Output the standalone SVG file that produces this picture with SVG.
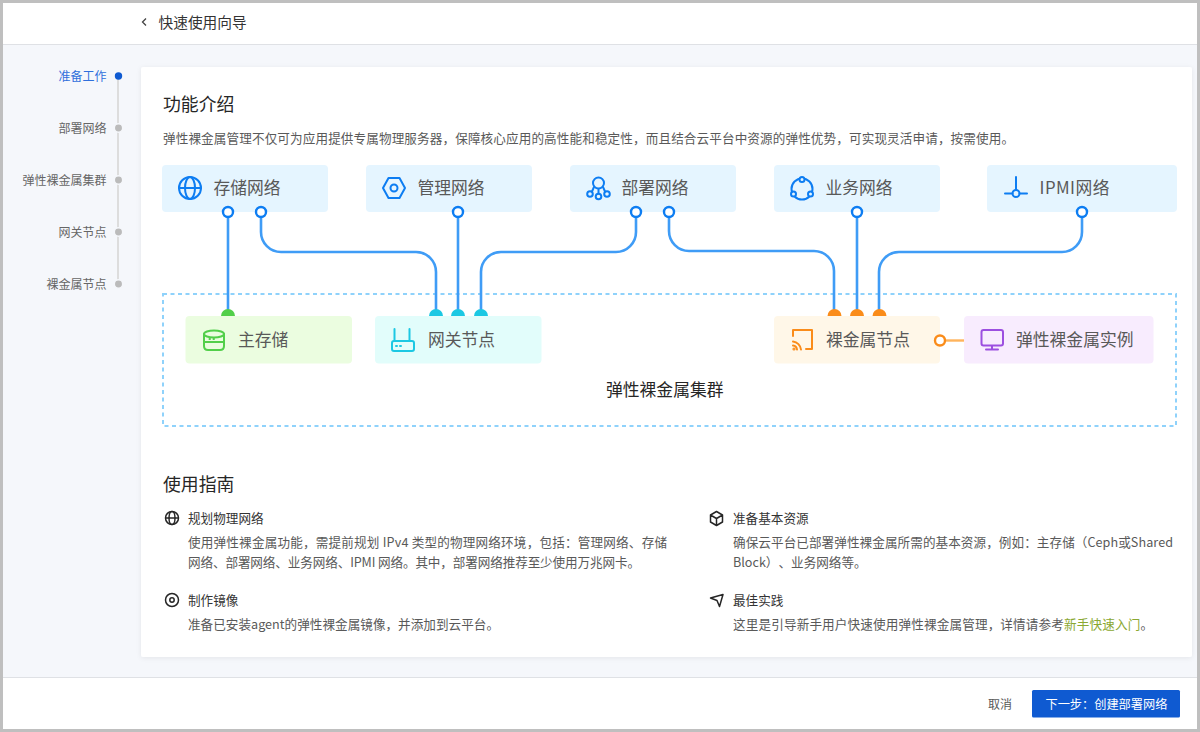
<svg xmlns="http://www.w3.org/2000/svg" width="1200" height="732" viewBox="0 0 1200 732">
<defs>
<filter id="sh" x="-2%" y="-2%" width="104%" height="104%"><feDropShadow dx="0" dy="1" stdDeviation="2.5" flood-color="#000" flood-opacity="0.07"/></filter>
</defs>
<style>
text{font-family:"Noto Sans CJK SC","Liberation Sans",sans-serif;text-spacing-trim:space-all}
.lb{font-size:16.8px;fill:#595959}
.h{font-size:17.85px;fill:#262626}
.b{font-size:12.6px;fill:#595959}
.t{font-size:12.6px;fill:#333}
.s{font-size:12px;fill:#666;text-anchor:end}
.i{fill:none;stroke-width:2;stroke-linecap:round;stroke-linejoin:round}
.bl{stroke:#0d7df2}
.k{fill:none;stroke:#262626;stroke-width:1.5;stroke-linejoin:round}
.c{fill:none;stroke:#3f9cf6;stroke-width:2.6}
.p{fill:#fff;stroke:#0d7df2;stroke-width:2.4}
</style>
<rect width="1200" height="732" fill="#bfbfbf"/>
<rect x="3" y="3" width="1194" height="726" fill="#f5f7fb"/>
<rect x="3" y="3" width="1194" height="41" fill="#fff"/>
<rect x="3" y="44" width="1194" height="1" fill="#dfe1e5"/>
<rect x="3" y="677" width="1194" height="52" fill="#fff"/>
<rect x="3" y="677" width="1194" height="1" fill="#dfe1e5"/>
<path d="M146 18.5l-3.500 3.500 3.500 3.500" fill="none" stroke="#444" stroke-width="1.300"/>
<text x="158.500" y="28" font-size="14.700" fill="#333">快速使用向导</text>

<g id="sidebar">
<rect x="117" y="76" width="2" height="208" fill="#ddd"/>
<circle cx="118.500" cy="76" r="3.700" fill="#0f5ad1"/>
<g fill="#bbb" stroke="#f5f7fb" stroke-width="1.500">
<circle cx="118.500" cy="128" r="4.200"/><circle cx="118.500" cy="180" r="4.200"/><circle cx="118.500" cy="232" r="4.200"/><circle cx="118.500" cy="284" r="4.200"/>
</g>
<text class="s" x="106.500" y="80.500" style="fill:#2f6fdc">准备工作</text>
<text class="s" x="106.500" y="132.500">部署网络</text>
<text class="s" x="106.500" y="184.500">弹性裸金属集群</text>
<text class="s" x="106.500" y="236.500">网关节点</text>
<text class="s" x="106.500" y="288.500">裸金属节点</text>
</g>

<rect x="141" y="67" width="1051" height="590" rx="2" fill="#fff" filter="url(#sh)"/>
<text class="h" x="163" y="111">功能介绍</text>
<text class="b" x="163" y="143" textLength="851">弹性裸金属管理不仅可为应用提供专属物理服务器，保障核心应用的高性能和稳定性，而且结合云平台中资源的弹性优势，可实现灵活申请，按需使用。</text>

<g id="cluster">
<rect x="163" y="294" width="1013" height="132" fill="none" stroke="#8fd2fb" stroke-width="2" stroke-dasharray="4 3.500"/>
<text x="606" y="396" font-size="16.800" fill="#262626">弹性裸金属集群</text>
</g>

<g id="connectors">
<path class="c" d="M228 212V316"/>
<path class="c" d="M261 212V232a20 20 0 0 0 20 20H416a20 20 0 0 1 20 20V316"/>
<path class="c" d="M458 212V316"/>
<path class="c" d="M636 212V232a20 20 0 0 1-20 20H501a20 20 0 0 0-20 20V316"/>
<path class="c" d="M669 212V231a20 20 0 0 0 20 20H814a20 20 0 0 1 20 20V316"/>
<path class="c" d="M857 212V316"/>
<path class="c" d="M1082 212V232a20 20 0 0 1-20 20H899a20 20 0 0 0-20 20V316"/>
<path d="M945 340.500H964" fill="none" stroke="#ffb45c" stroke-width="2.400"/>
<path fill="#52cf4a" d="M221 316a7 7 0 0 1 14 0z"/>
<g fill="#1cc8e3"><path d="M429 316a7 7 0 0 1 14 0z"/><path d="M451 316a7 7 0 0 1 14 0z"/><path d="M474 316a7 7 0 0 1 14 0z"/></g>
<g fill="#fa8c1a"><path d="M827.500 316a7 7 0 0 1 14 0z"/><path d="M850 316a7 7 0 0 1 14 0z"/><path d="M872.500 316a7 7 0 0 1 14 0z"/></g>
</g>

<g id="n-storage-net">
<rect x="162" y="165" width="166" height="47" rx="4" fill="#e5f5ff"/>
<g class="i bl"><circle cx="190" cy="188" r="11"/><ellipse cx="190" cy="188" rx="5" ry="11"/><path d="M179 188H201"/></g>
<text class="lb" x="213.500" y="194">存储网络</text>
</g>
<g id="n-mgmt-net">
<rect x="366" y="165" width="166" height="47" rx="4" fill="#e5f5ff"/>
<g class="i bl"><path d="M388.500 178H399.500L405 188L399.500 198H388.500L383 188Z"/><circle cx="394" cy="188" r="3.500"/></g>
<text class="lb" x="417.500" y="194">管理网络</text>
</g>
<g id="n-deploy-net">
<rect x="570" y="165" width="166" height="47" rx="4" fill="#e5f5ff"/>
<g class="i bl"><circle cx="598.500" cy="183" r="5.500"/><circle cx="590" cy="194" r="2.800"/><circle cx="598.500" cy="196.500" r="2.800"/><circle cx="607" cy="194" r="2.800"/><path d="M594 187L592 191.500M603 187L605 191.500M598.500 189V193.500"/></g>
<text class="lb" x="621.500" y="194">部署网络</text>
</g>
<g id="n-biz-net">
<rect x="774" y="165" width="166" height="47" rx="4" fill="#e5f5ff"/>
<g class="i bl"><circle cx="802" cy="189" r="10.500"/><g fill="#e5f5ff"><circle cx="802" cy="179.500" r="2.500"/><circle cx="793.500" cy="194" r="2.500"/><circle cx="810.500" cy="194" r="2.500"/></g></g>
<text class="lb" x="825.500" y="194">业务网络</text>
</g>
<g id="n-ipmi-net">
<rect x="987" y="165" width="190" height="47" rx="4" fill="#e5f5ff"/>
<g class="i bl"><path d="M1016 177V190M1005 193.500H1012.500M1019.500 193.500H1027"/><circle cx="1016" cy="193.500" r="3.500"/></g>
<text class="lb" x="1039.500" y="194" textLength="70">IPMI网络</text>
</g>

<g id="ports">
<circle class="p" cx="228" cy="212" r="5"/><circle class="p" cx="261" cy="212" r="5"/><circle class="p" cx="458" cy="212" r="5"/><circle class="p" cx="636" cy="212" r="5"/><circle class="p" cx="669" cy="212" r="5"/><circle class="p" cx="857" cy="212" r="5"/><circle class="p" cx="1082" cy="212" r="5"/>
</g>

<g id="n-primary-storage">
<rect x="185.500" y="316" width="166.500" height="47.500" rx="4" fill="#ebfde0"/>
<g class="i" stroke="#52cf4a"><ellipse cx="214" cy="334" rx="10" ry="3.500"/><path d="M204 334V346Q204 350 208 350H220Q224 350 224 346V334M204 342H224"/><path d="M209.500 339H210M213.500 339H214"/></g>
<text class="lb" x="238" y="345.500">主存储</text>
</g>
<g id="n-gateway">
<rect x="375" y="316" width="166.500" height="47.500" rx="4" fill="#e2fdfb"/>
<g class="i" stroke="#1cc8e3"><path d="M394.500 329V341M409.500 329V341"/><rect x="392" y="341" width="22" height="10" rx="2"/><path d="M396 346H397M400 346H401"/></g>
<text class="lb" x="428" y="345.500">网关节点</text>
</g>
<g id="n-baremetal">
<rect x="774" y="316" width="166" height="47.500" rx="4" fill="#fff7e8"/>
<g class="i" stroke="#fa8c1a"><path d="M793 336V330H812V349H806"/><path d="M793 341.500A9 9 0 0 1 801 349.500M793 345.500A4.500 4.500 0 0 1 797 349.500"/><circle cx="794" cy="349" r="0.600"/></g>
<text class="lb" x="826" y="345.500">裸金属节点</text>
<circle cx="940" cy="340.500" r="5" fill="#fff" stroke="#fa8c1a" stroke-width="2.400"/>
</g>
<g id="n-instance">
<rect x="964" y="316" width="189.500" height="47.500" rx="4" fill="#f8ecfe"/>
<g class="i" stroke="#9c4fe0"><rect x="981.500" y="330" width="21.500" height="15.500" rx="2"/><path d="M992 346V349.500M986 349.500H998"/></g>
<text class="lb" x="1016" y="345.500">弹性裸金属实例</text>
</g>

<text class="h" x="163" y="491">使用指南</text>

<g id="guide-1">
<g class="k"><circle cx="172" cy="518" r="6.500"/><ellipse cx="172" cy="518" rx="3" ry="6.500"/><path d="M165.500 518H178.500"/></g>
<text class="t" x="188" y="523">规划物理网络</text>
<text class="b" x="188" y="547" textLength="479">使用弹性裸金属功能，需提前规划 IPv4 类型的物理网络环境，包括：管理网络、存储</text>
<text class="b" x="188" y="567" textLength="452">网络、部署网络、业务网络、IPMI 网络。其中，部署网络推荐至少使用万兆网卡。</text>
</g>
<g id="guide-2">
<g class="k"><circle cx="172" cy="600" r="6.500"/><circle cx="172" cy="600" r="2.200"/></g>
<text class="t" x="188" y="605">制作镜像</text>
<text class="b" x="188" y="629" textLength="311">准备已安装agent的弹性裸金属镜像，并添加到云平台。</text>
</g>
<g id="guide-3">
<g class="k"><path d="M716.500 511.500L722.500 515V522L716.500 525.500L710.500 522V515ZM710.500 515L716.500 518.500L722.500 515M716.500 518.500V525.500"/></g>
<text class="t" x="733" y="523">准备基本资源</text>
<text class="b" x="733" y="547" textLength="440">确保云平台已部署弹性裸金属所需的基本资源，例如：主存储（Ceph或Shared</text>
<text class="b" x="733" y="567">Block）、业务网络等。</text>
</g>
<g id="guide-4">
<path class="k" d="M710.500 598L723 594.500L719.500 606.500L717 600.500Z"/>
<text class="t" x="733" y="605">最佳实践</text>
<text class="b" x="733" y="629" textLength="420">这里是引导新手用户快速使用弹性裸金属管理，详情请参考<tspan fill="#8aa832">新手快速入门</tspan>。</text>
</g>

<g id="footer">
<text x="988" y="708.500" font-size="12" fill="#595959">取消</text>
<rect x="1032" y="690" width="148" height="27.500" rx="1.500" fill="#0f5ad1"/>
<text x="1045.500" y="708.500" font-size="12.200" fill="#fff">下一步：创建部署网络</text>
</g>
</svg>
